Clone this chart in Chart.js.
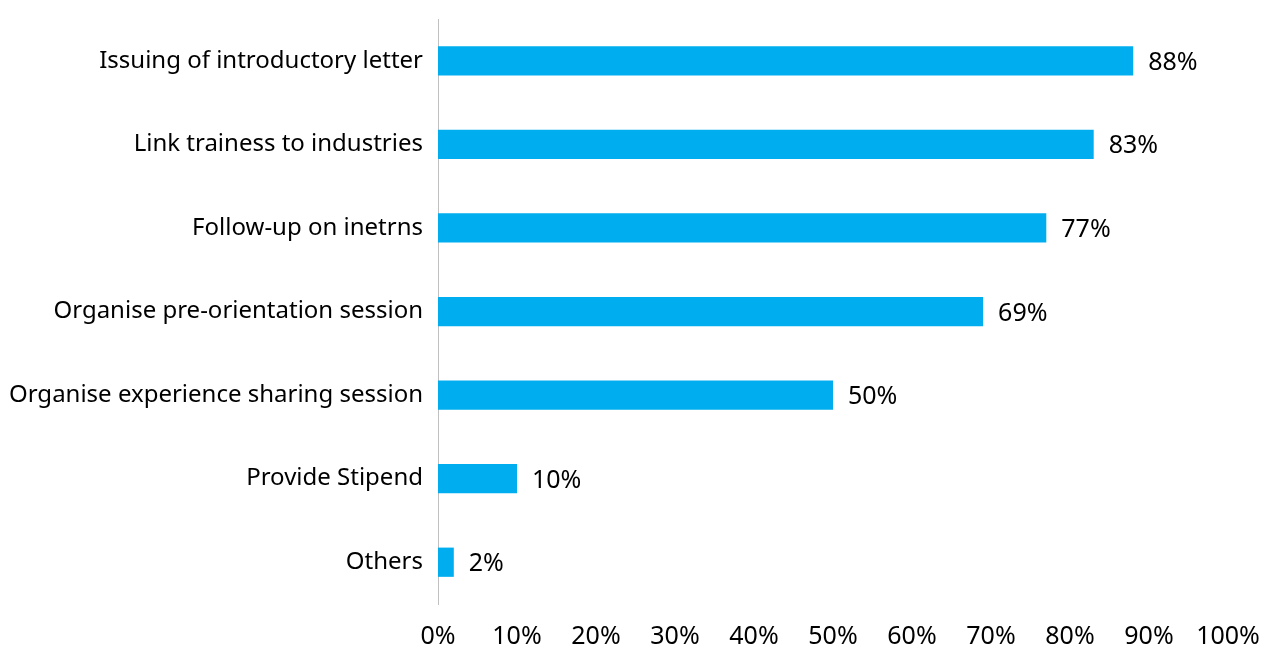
<!DOCTYPE html>
<html>
<head>
<meta charset="utf-8">
<script src="https://cdn.jsdelivr.net/npm/chart.js@4"></script>
<style>
  html, body { margin: 0; padding: 0; background: #fff; overflow: hidden; }
  #wrap { width: 1269px; height: 670px; position: relative; }
</style>
</head>
<body>
<div id="wrap"><canvas id="supportChart"></canvas></div>
<script>
const categories = [
    'Issuing of introductory letter',
    'Link trainess to industries',
    'Follow-up on inetrns',
    'Organise pre-orientation session',
    'Organise experience sharing session',
    'Provide Stipend',
    'Others'
];
const shares = [88, 83, 77, 69, 50, 10, 2];
const tickValues = [0, 10, 20, 30, 40, 50, 60, 70, 80, 90, 100];

// value labels to the right of each bar
const barLabels = {
    id: 'barLabels',
    afterDatasetsDraw(chart) {
        const ctx = chart.ctx;
        const meta = chart.getDatasetMeta(0);
        ctx.save();
        ctx.font = '25px "Noto Sans"';
        ctx.fillStyle = '#000';
        ctx.textAlign = 'left';
        ctx.textBaseline = 'middle';
        meta.data.forEach((bar, i) => {
            ctx.fillText(shares[i] + '%', bar.x + 15, bar.y + 2);
        });
        ctx.restore();
    }
};

const ctx = document.getElementById('supportChart');
const supportChart = new Chart(ctx, {
    type: 'bar',
    data: {
        labels: categories,
        datasets: [{
            data: shares,
            backgroundColor: '#00aeef',
            borderWidth: 0,
            categoryPercentage: 1,
            barPercentage: 0.35
        }]
    },
    options: {
        indexAxis: 'y',
        responsive: true,
        maintainAspectRatio: false,
        animation: false,
        layout: { padding: { left: 8, right: 0, top: 19, bottom: 0 } },
        plugins: {
            legend: { display: false },
            tooltip: { enabled: false }
        },
        scales: {
            x: {
                min: 0,
                max: 100,
                afterBuildTicks(scale) {
                    scale.ticks = tickValues.map(v => ({ value: v }));
                },
                afterFit(scale) {
                    scale.paddingRight = 41;
                },
                grid: { display: false, drawTicks: false },
                border: { display: false },
                ticks: {
                    padding: 18,
                    color: '#000',
                    font: { family: 'Noto Sans', size: 25 },
                    callback: v => v + '%'
                }
            },
            y: {
                afterFit(scale) {
                    scale.width = 430;
                    scale.paddingTop = 0;
                    scale.paddingBottom = 0;
                },
                grid: { display: false, drawTicks: false },
                border: { display: true, color: '#c0c0c0', width: 1 },
                ticks: {
                    padding: 15,
                    color: '#000',
                    font: { family: 'Noto Sans', size: 24 }
                }
            }
        }
    },
    plugins: [barLabels]
});
</script>
</body>
</html>
